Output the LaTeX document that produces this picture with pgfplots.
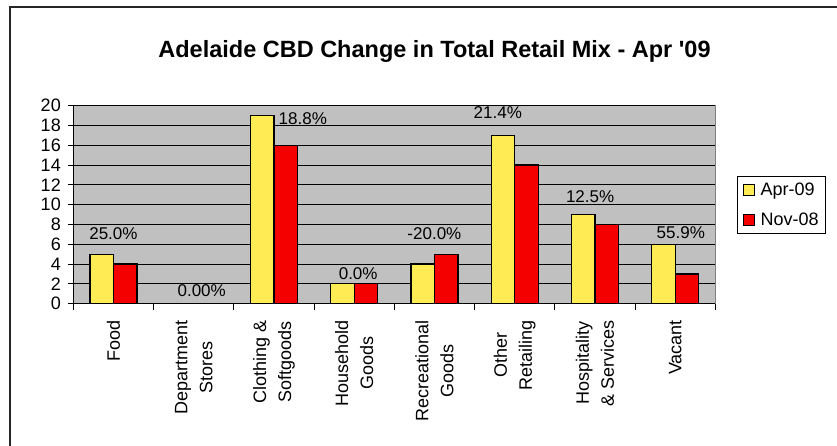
\documentclass[border=0pt]{standalone}
\usepackage{pgfplots}
\pgfplotsset{compat=1.18}
\usepackage{fontspec}
\setmainfont{Liberation Sans}
\definecolor{barY}{RGB}{255,236,85}
\definecolor{barR}{RGB}{245,0,0}
\definecolor{plotbg}{RGB}{192,192,192}
\begin{document}
\begin{tikzpicture}[x=1pt,y=1pt]
\path[use as bounding box] (0,0) rectangle (837,446);
\draw[line width=1.3pt, black!85] (10,0) -- (10,439) -- (837,439);
\node[font=\fontsize{23.5}{26}\selectfont\bfseries, anchor=base] at (434.5,388.5) {Adelaide CBD Change in Total Retail Mix - Apr \textquotesingle09};
\begin{axis}[
  at={(73.3pt,142.3pt)}, anchor=south west,
  scale only axis, width=642pt, height=198pt,
  ybar=0pt, bar width=23.5pt,
  xmin=-0.5, xmax=7.5, ymin=0, ymax=20,
  ytick={0,2,...,20},
  xtick={0,...,7},
  xticklabels={{Food},{Department\\Stores},{Clothing \&\\Softgoods},{Household\\Goods},{Recreational\\Goods},{Other\\Retailing},{Hospitality\\\& Services},{Vacant}},
  minor xtick={-0.5,0.5,...,7.5},
  major x tick style={draw=none},
  tick align=outside,
  major tick length=5pt, minor tick length=6pt,
  tick style={black, line width=0.8pt},
  axis x line*=bottom, axis y line*=left,
  axis line style={black, line width=1pt},
  axis background/.style={fill=plotbg, draw=gray},
  ymajorgrids, grid style={black, line width=0.8pt},
  /pgf/number format/assume math mode=true,
  ticklabel style={font=\fontsize{18}{20}\selectfont},
  yticklabel style={xshift=-4pt},
  xticklabel style={yshift=-8pt, rotate=90, anchor=east, align=center, font=\fontsize{18}{25}\selectfont},
  every axis plot post/.append style={legend image code/.code={\draw[#1, line width=1pt] (0pt,-5.5pt) rectangle (11pt,5.5pt);}},
  legend style={at={(1,0.5)}, anchor=west, xshift=22pt, draw=black, fill=white,
    font=\fontsize{18}{20}\selectfont, row sep=12pt, inner xsep=5pt, inner ysep=4pt,
    cells={anchor=west}, /tikz/every odd column/.append style={column sep=4pt}},
  clip=false,
]
\addplot[fill=barY, draw=black, line width=1.2pt] coordinates {(0,5) (1,0) (2,19) (3,2) (4,4) (5,17) (6,9) (7,6)};
\addplot[fill=barR, draw=black, line width=1.2pt] coordinates {(0,4) (1,0) (2,16) (3,2) (4,5) (5,14) (6,8) (7,3)};
\legend{Apr-09, Nov-08}
\begin{scope}[every node/.style={font=\fontsize{17}{20}\selectfont}]
\node at (axis cs:0,7.1) {25.0\%};
\node at (axis cs:1.1,1.3) {0.00\%};
\node at (axis cs:2.36,18.66) {18.8\%};
\node at (axis cs:3.05,3.0) {0.0\%};
\node at (axis cs:4.0,7.1) {-20.0\%};
\node at (axis cs:4.79,19.3) {21.4\%};
\node at (axis cs:5.94,10.78) {12.5\%};
\node at (axis cs:7.07,7.14) {55.9\%};
\end{scope}
\end{axis}
\end{tikzpicture}
\end{document}
